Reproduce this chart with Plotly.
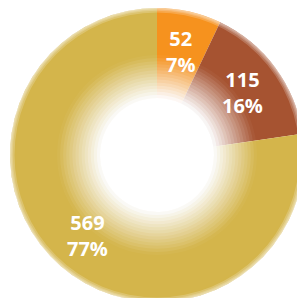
import math
import plotly.graph_objects as go

# ---- data ----
labels = ["A", "B", "C"]
values = [52, 115, 569]
colors = ["#F6921E", "#A65331", "#D4B54B"]

# ---- geometry (pixels) ----
W, H = 310, 310
CX, CY = 157, 155        # centre (from top-left)
R_OUT = 147
R_IN = 57
R_FADE = 100
R_LABEL = 106

def dom(r):
    return dict(x=[(CX - r) / W, (CX + r) / W],
                y=[(H - CY - r) / H, (H - CY + r) / H])

fig = go.Figure()
fig.add_trace(go.Pie(
    labels=labels, values=values, sort=False, direction="clockwise", rotation=0,
    hole=R_IN / R_OUT, domain=dom(R_OUT),
    marker=dict(colors=colors, line=dict(width=0)),
    textinfo="none", hoverinfo="skip", showlegend=False,
))

# white radial fade toward the centre (decoration)
N = 14
targets = [(j - 0.5) / N for j in range(1, N + 1)]
alphas = [0.0] * N
alphas[N - 1] = 1 - targets[N - 1]
for j in range(N - 2, -1, -1):
    alphas[j] = 1 - targets[j] / targets[j + 1]
for k in range(N):
    r = R_IN + (R_FADE - R_IN) * (k + 1) / N
    fig.add_trace(go.Pie(
        values=[1], labels=["w"], domain=dom(r), sort=False,
        marker=dict(colors=[f"rgba(255,255,255,{alphas[k]:.4f})"], line=dict(width=0)),
        textinfo="none", hoverinfo="skip", showlegend=False,
    ))

# soft outer edge
for rin in [142.5, 144.2, 145.4, 146.3]:
    fig.add_trace(go.Pie(
        values=[1], labels=["e"], domain=dom(R_OUT), hole=rin / R_OUT, sort=False,
        marker=dict(colors=["rgba(255,255,255,0.2)"], line=dict(width=0)),
        textinfo="none", hoverinfo="skip", showlegend=False,
    ))

# labels at the middle of each slice
total = sum(values)
cum = 0
annotations = []
for v in values:
    mid = (cum + v / 2) / total * 2 * math.pi
    cum += v
    dx = R_LABEL * math.sin(mid)
    dy = R_LABEL * math.cos(mid)
    annotations.append(dict(
        x=(CX + dx) / W, y=(H - CY + dy) / H, xref="paper", yref="paper",
        text=f"{v}<br>{round(v / total * 100)}%", showarrow=False,
        font=dict(family="Open Sans", size=20, color="white", weight="bold"),
        xanchor="center", yanchor="middle",
    ))

fig.update_layout(
    width=W, height=H, margin=dict(l=0, r=0, t=0, b=0),
    paper_bgcolor="white", plot_bgcolor="white", showlegend=False,
    annotations=annotations,
)

fig.write_html("out.html", config={"displayModeBar": False},
               post_script="document.body.style.margin='0';document.body.style.overflow='hidden';")
